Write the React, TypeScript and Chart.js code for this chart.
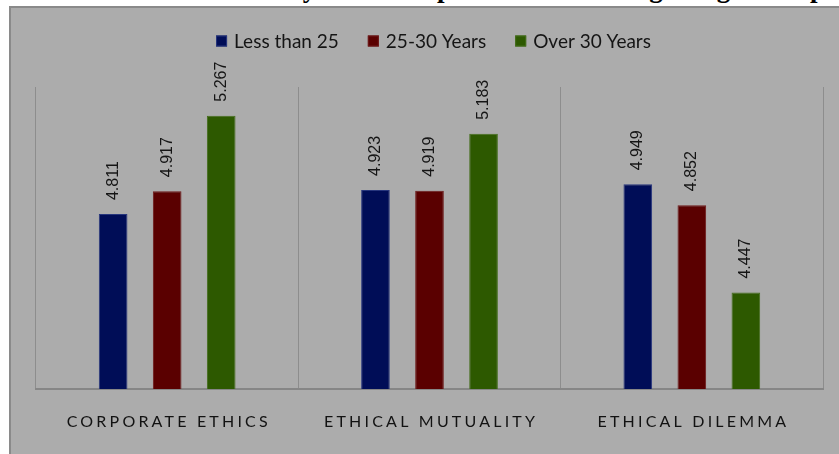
import { useEffect, useRef } from "react";
import { Chart, registerables } from "chart.js";

Chart.register(...registerables);

// Mean scores per ethics dimension, grouped by age band
const categories = ["CORPORATE ETHICS", "ETHICAL MUTUALITY", "ETHICAL DILEMMA"];
const seriesNames = ["Less than 25", "25-30 Years", "Over 30 Years"];
const lessThan25 = [4.811, 4.923, 4.949];
const years25to30 = [4.917, 4.919, 4.852];
const over30 = [5.267, 5.183, 4.447];
const valueAxisMin = 4;
const valueAxisMax = 5.4;

const fills = ["#000d57", "#5a0000", "#2d5900"];
const edges = ["#27367d", "#6e1a1a", "#456f1c"];

const captionText =
  "Mean Values of Ethicality of the Respondents according to Age Group";

const valueLabelPlugin = {
  id: "valueLabels",
  afterDatasetsDraw(chart: any) {
    const ctx = chart.ctx;
    ctx.save();
    ctx.font = "16px 'Liberation Sans', Arial, sans-serif";
    ctx.fillStyle = "#151515";
    chart.data.datasets.forEach((ds: any, i: number) => {
      const meta = chart.getDatasetMeta(i);
      meta.data.forEach((bar: any, j: number) => {
        const v = ds.data[j] as number;
        ctx.save();
        ctx.translate(bar.x, bar.y - 14);
        ctx.rotate(-Math.PI / 2);
        ctx.textAlign = "left";
        ctx.textBaseline = "middle";
        ctx.fillText(v.toFixed(3), 0, 0);
        ctx.restore();
      });
    });
    ctx.restore();
  },
};

const categoryLabelPlugin = {
  id: "categoryLabels",
  afterDraw(chart: any) {
    const ctx = chart.ctx;
    const xScale = chart.scales.x;
    const spacing = 3.2;
    ctx.save();
    ctx.font = "16px Lato, 'Open Sans', sans-serif";
    (ctx as any).letterSpacing = spacing + "px";
    ctx.fillStyle = "#121212";
    ctx.textAlign = "center";
    ctx.textBaseline = "middle";
    categories.forEach((c, i) => {
      const x = xScale.getPixelForValue(i) + spacing / 2;
      ctx.fillText(c, x, chart.chartArea.bottom + 33);
    });
    ctx.restore();
  },
};

const legendPlugin = {
  id: "boxLegend",
  afterDraw(chart: any) {
    const ctx = chart.ctx;
    const box = 11;
    const gap = 7;
    const itemGap = 29;
    ctx.save();
    ctx.font = "19px Lato, 'Open Sans', sans-serif";
    const widths = seriesNames.map((n) => ctx.measureText(n).width);
    const total =
      widths.reduce((a, b) => a + b, 0) +
      seriesNames.length * (box + gap) +
      (seriesNames.length - 1) * itemGap;
    const center = (chart.chartArea.left + chart.chartArea.right) / 2 + 4;
    let x = center - total / 2;
    const y = 33;
    seriesNames.forEach((n, i) => {
      ctx.fillStyle = fills[i];
      ctx.fillRect(x, y - box / 2, box, box);
      ctx.strokeStyle = edges[i];
      ctx.lineWidth = 1;
      ctx.strokeRect(x + 0.5, y - box / 2 + 0.5, box - 1, box - 1);
      ctx.fillStyle = "#151515";
      ctx.textAlign = "left";
      ctx.textBaseline = "middle";
      ctx.fillText(n, x + box + gap, y + 1);
      x += box + gap + widths[i] + itemGap;
    });
    ctx.restore();
  },
};

function EthicsChart() {
  const canvasRef = useRef<HTMLCanvasElement | null>(null);

  useEffect(() => {
    if (!canvasRef.current) return;
    const seriesValues = [lessThan25, years25to30, over30];
    const chart = new Chart(canvasRef.current, {
      type: "bar",
      data: {
        labels: categories,
        datasets: seriesNames.map((name, i) => ({
          label: name,
          data: seriesValues[i],
          backgroundColor: fills[i],
          borderColor: edges[i],
          borderWidth: 1,
          categoryPercentage: 0.618,
          barPercentage: 0.53,
        })),
      },
      options: {
        animation: false,
        responsive: false,
        layout: { padding: { left: 25, top: 79, right: 16, bottom: 65 } },
        plugins: {
          legend: { display: false },
          tooltip: { enabled: false },
          title: { display: false },
        },
        scales: {
          x: {
            ticks: { display: false },
            grid: {
              display: true,
              color: "#8d8d8d",
              lineWidth: 1,
              drawTicks: false,
              offset: true,
            },
            border: { display: true, color: "#868686", width: 2 },
          },
          y: {
            display: false,
            min: valueAxisMin,
            max: valueAxisMax,
          },
        },
      },
      plugins: [valueLabelPlugin, categoryLabelPlugin, legendPlugin],
    });
    return () => chart.destroy();
  }, []);

  return (
    <canvas
      ref={canvasRef}
      width={828}
      height={446}
      style={{ display: "block", width: 828, height: 446 }}
    />
  );
}

export default function App() {
  return (
    <div
      style={{
        position: "fixed",
        left: 0,
        top: 0,
        width: 839,
        height: 454,
        overflow: "hidden",
        background: "#ffffff",
      }}
    >
      <div
        style={{
          position: "absolute",
          left: 0,
          top: 0,
          width: 839,
          height: 6,
          overflow: "hidden",
        }}
      >
        <span
          style={{
            position: "absolute",
            left: 20,
            top: -25,
            whiteSpace: "nowrap",
            fontFamily: "'Liberation Serif', 'Times New Roman', serif",
            fontWeight: "bold",
            fontSize: 27,
            lineHeight: "27px",
            color: "#000",
          }}
        >
          {captionText}
        </span>
      </div>
      <div
        style={{
          position: "absolute",
          left: 9,
          top: 6,
          width: 830,
          height: 448,
          boxSizing: "border-box",
          borderLeft: "2px solid #8a8a8a",
          borderTop: "2px solid #8a8a8a",
          background: "#acacac",
        }}
      >
        <EthicsChart />
      </div>
    </div>
  );
}
